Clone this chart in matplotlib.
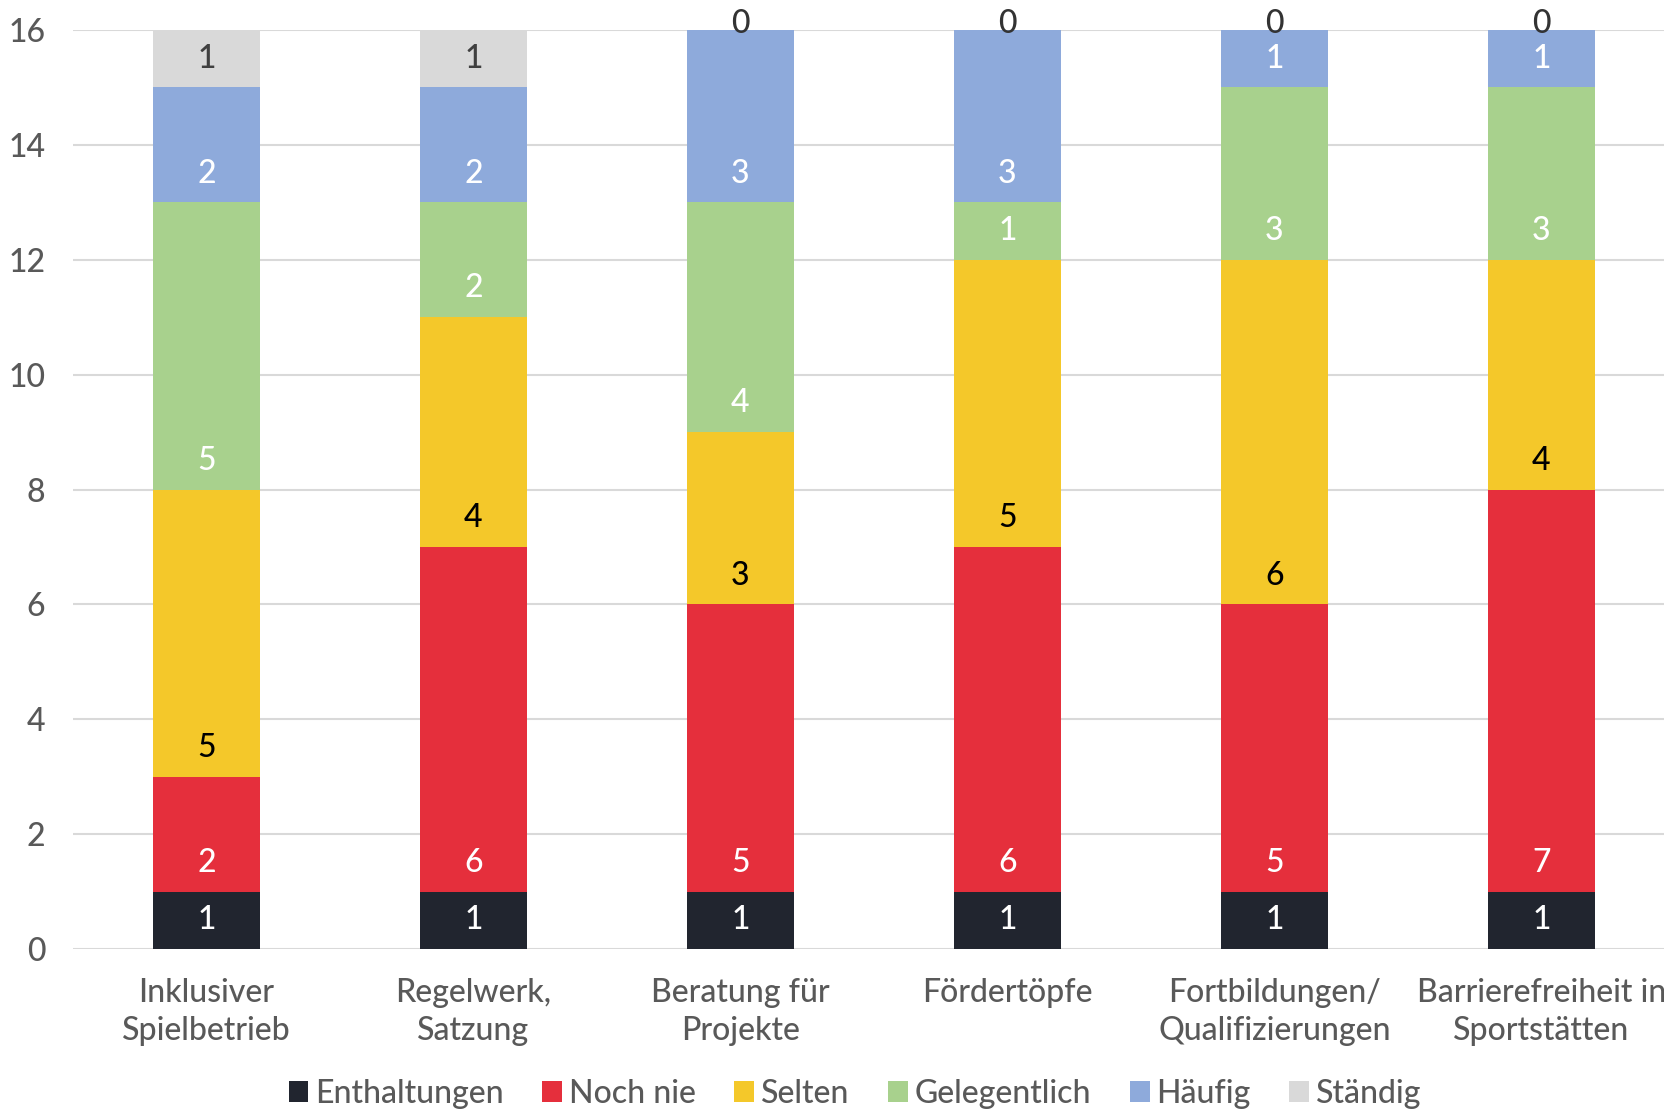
import matplotlib
matplotlib.use("Agg")
import matplotlib.pyplot as plt
import numpy as np

categories = ["Inklusiver\nSpielbetrieb", "Regelwerk,\nSatzung", "Beratung für\nProjekte",
              "Fördertöpfe", "Fortbildungen/\nQualifizierungen", "Barrierefreiheit in\nSportstätten"]
series_names = ["Enthaltungen", "Noch nie", "Selten", "Gelegentlich", "Häufig", "Ständig"]
enthaltungen = [1, 1, 1, 1, 1, 1]
noch_nie = [2, 6, 5, 6, 5, 7]
selten = [5, 4, 3, 5, 6, 4]
gelegentlich = [5, 2, 4, 1, 3, 3]
haeufig = [2, 2, 3, 3, 1, 1]
staendig = [1, 1, 0, 0, 0, 0]
yticks = [0, 2, 4, 6, 8, 10, 12, 14, 16]

series = [enthaltungen, noch_nie, selten, gelegentlich, haeufig, staendig]
colors = ["#21252f", "#e52f3c", "#f4c82a", "#a8d18d", "#8eaadb", "#d9d9d9"]
label_colors = ["white", "white", "black", "white", "white", "#404040"]

plt.rcParams['font.family'] = ['Lato', 'DejaVu Sans']
plt.rcParams['font.weight'] = 'medium'
text_gray = "#595959"
fs = 23

fig = plt.figure(figsize=(16.65, 11.1), dpi=100)
ax = fig.add_axes([73/1665, 161/1110, (1675-73)/1665, (949-30)/1110])

x = np.arange(len(categories))
bottom = np.zeros(len(categories))
for vals, name, col, lc in zip(series, series_names, colors, label_colors):
    vals = np.array(vals, dtype=float)
    ax.bar(x, vals, 0.4, bottom=bottom, color=col, label=name, zorder=3)
    for xi, b, v in zip(x, bottom, vals):
        if v > 0:
            ax.text(xi, b + 0.5, f"{int(v)}", ha="center", va="center",
                    color=lc, fontsize=fs, zorder=4)
        else:
            ax.text(xi, b + 0.1, f"{int(v)}", ha="center", va="center",
                    color="#333333", fontsize=fs, zorder=4, clip_on=False)
    bottom += vals

ax.set_xlim(-0.5, len(categories) - 0.5)
ax.set_ylim(0, 16)
ax.set_yticks(yticks)
ax.set_yticklabels([str(t) for t in yticks])
ax.set_xticks(x)
ax.set_xticklabels(categories, linespacing=1.33)
ax.tick_params(axis="y", length=0, pad=20, labelsize=fs, labelcolor=text_gray)
ax.tick_params(axis="x", length=0, pad=21, labelsize=fs, labelcolor=text_gray)
ax.yaxis.grid(True, color="#d9d9d9", linewidth=1.5, zorder=0)
ax.set_axisbelow(True)
for s in ax.spines.values():
    s.set_visible(False)

leg = fig.legend(loc="center", bbox_to_anchor=(855/1665, 1 - 1094/1110), ncol=6,
                 frameon=False, fontsize=fs, handlelength=0.62, handleheight=0.62,
                 handletextpad=0.22, columnspacing=1.2, labelcolor=text_gray)

fig.savefig("out.png", dpi=100)
